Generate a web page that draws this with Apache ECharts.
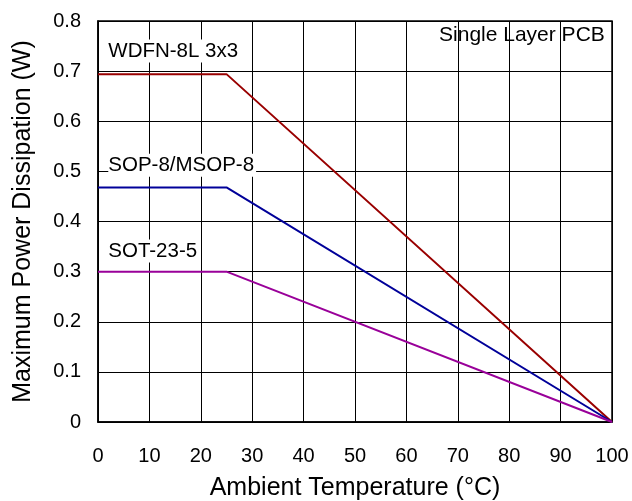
<!DOCTYPE html>
<html>
<head>
<meta charset="utf-8">
<script src="https://cdn.jsdelivr.net/npm/echarts@6/dist/echarts.min.js"></script>
<style>html,body{margin:0;padding:0;background:#fff}#c{width:632px;height:501px}</style>
</head>
<body>
<div id="c"></div>
<script>
var temps = [0, 25, 100];
var wdfn = [0.694, 0.694, 0];
var sop = [0.468, 0.468, 0];
var sot = [0.3, 0.3, 0];
var seriesNames = ['WDFN-8L 3x3', 'SOP-8/MSOP-8', 'SOT-23-5'];
var seriesColors = ['#990000', '#000099', '#990099'];
var labelPos = [[2, 0.74], [2, 0.512], [2, 0.341]];
var noteText = 'Single Layer PCB';
var notePos = [98.6, 0.772];

var FONT = '"Liberation Sans", Arial, sans-serif';
function pairs(xs, ys) { return xs.map(function (x, i) { return [x, ys[i]]; }); }
var allY = [wdfn, sop, sot];

var series = allY.map(function (ys, i) {
  return {
    type: 'line', name: seriesNames[i], data: pairs(temps, ys), symbol: 'none',
    lineStyle: { color: seriesColors[i], width: 2 }, z: 5,
    markPoint: {
      symbol: 'circle', symbolSize: 0, silent: true,
      data: [{ coord: labelPos[i], value: seriesNames[i] }],
      label: {
        show: true, position: 'right', distance: 0, formatter: seriesNames[i],
        color: '#000', fontFamily: FONT, fontSize: 20.5,
        backgroundColor: '#fff', padding: [1, 2, 1, 0]
      }
    }
  };
});
series.push({
  type: 'line', data: [], symbol: 'none',
  markPoint: {
    symbol: 'circle', symbolSize: 0, silent: true,
    data: [{ coord: notePos, value: noteText }],
    label: { show: true, position: 'left', distance: 0, formatter: noteText,
      color: '#000', fontFamily: FONT, fontSize: 21 }
  }
});

var chart = echarts.init(document.getElementById('c'), null, { renderer: 'canvas' });
chart.setOption({
  animation: false,
  backgroundColor: '#fff',
  grid: { left: 98, right: 20, top: 21, bottom: 79, show: true, borderColor: '#000', borderWidth: 1.5,
    containLabel: false, outerBoundsMode: 'none' },
  xAxis: {
    type: 'value', min: 0, max: 100, interval: 10,
    name: 'Ambient Temperature (°C)', nameLocation: 'middle', nameGap: 54,
    nameTextStyle: { fontFamily: FONT, fontSize: 25, color: '#000' },
    axisLine: { show: true, lineStyle: { color: '#000', width: 1.5 } },
    axisTick: { show: false },
    axisLabel: { fontFamily: FONT, fontSize: 20, color: '#000', margin: 24 },
    splitLine: { show: true, lineStyle: { color: '#000', width: 1 } }
  },
  yAxis: {
    type: 'value', min: 0, max: 0.8, interval: 0.1,
    name: 'Maximum Power Dissipation (W)', nameLocation: 'middle', nameGap: 62,
    nameTextStyle: { fontFamily: FONT, fontSize: 25, color: '#000' },
    axisLine: { show: true, lineStyle: { color: '#000', width: 1.5 } },
    axisTick: { show: false },
    axisLabel: { fontFamily: FONT, fontSize: 20, color: '#000', margin: 17,
      formatter: function (v) { return v === 0 ? '0' : v.toFixed(1); } },
    splitLine: { show: true, lineStyle: { color: '#000', width: 1 } }
  },
  series: series
});
</script>
</body>
</html>
